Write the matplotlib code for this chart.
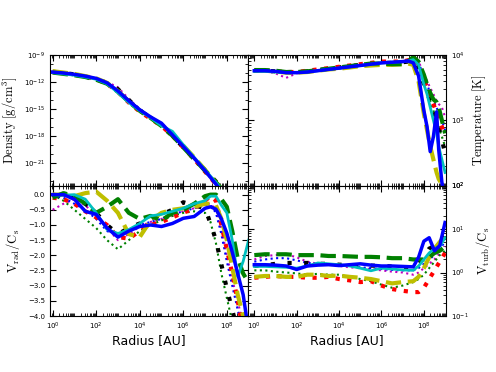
import numpy as np
import matplotlib
matplotlib.use("Agg")
import matplotlib.pyplot as plt
from matplotlib.ticker import LogLocator, FixedLocator, NullFormatter, MultipleLocator

plt.rcParams['mathtext.fontset'] = 'cm'

# log10(radius / AU) grids, one per panel
logr_rho = [0, 0.5, 1, 1.5, 2, 2.5, 3, 3.5, 4, 4.5, 5, 5.5, 6, 6.5, 7, 7.5, 7.75]
logr_temp = [0, 0.5, 1, 1.5, 2, 2.5, 3, 3.5, 4, 4.5, 5, 5.5, 6, 6.5, 7, 7.25, 7.5, 7.75,
             8.0, 8.15, 8.3, 8.45, 8.6, 8.7, 8.85, 9.0]
logr_vrad = [0, 0.5, 1, 1.5, 2, 2.5, 3, 3.5, 4, 4.5, 5, 5.5, 6, 6.5, 7, 7.25, 7.5, 7.75,
             8.0, 8.25, 8.5, 8.75, 9.0]
logr_vturb = [0, 0.5, 1, 1.5, 2, 2.5, 3, 3.5, 4, 4.5, 5, 5.5, 6, 6.5, 7, 7.5, 7.75,
              8.0, 8.25, 8.5, 8.75, 9.0]

series = ["mdot", "gdot", "bdot", "kdot", "rdot", "ydash", "gdash", "cyan", "blue"]

# log10 density [g/cm^3]
rho = {
    "mdot":  [-10.95, -11.0, -11.2, -11.4, -11.6, -12.0, -12.6, -13.9, -15.0, -15.9, -16.6, -17.9, -19.2, -20.5, -21.9, -23.3, -24.0],
    "gdot":  [-10.9, -11.05, -11.2, -11.4, -11.7, -12.2, -13.1, -14.2, -15.2, -16.0, -16.8, -18.0, -19.3, -20.6, -22.0, -23.4, -24.1],
    "bdot":  [-10.9, -11.0, -11.15, -11.35, -11.6, -12.1, -12.9, -14.0, -15.0, -15.9, -16.6, -17.9, -19.2, -20.5, -21.9, -23.3, -24.0],
    "kdot":  [-10.85, -11.0, -11.15, -11.4, -11.65, -12.1, -12.8, -14.0, -15.2, -16.0, -16.9, -18.0, -19.3, -20.6, -21.8, -23.1, -23.8],
    "rdot":  [-10.9, -11.05, -11.2, -11.4, -11.7, -12.2, -13.1, -14.3, -15.3, -16.1, -16.9, -18.0, -19.3, -20.6, -22.0, -23.4, -24.1],
    "ydash": [-10.8, -10.95, -11.1, -11.35, -11.6, -12.1, -13.0, -14.2, -15.2, -16.0, -16.9, -17.8, -19.1, -20.4, -21.8, -23.2, -23.9],
    "gdash": [-10.95, -11.1, -11.25, -11.45, -11.75, -12.2, -13.1, -14.2, -15.2, -16.0, -16.9, -18.0, -19.3, -20.6, -21.9, -23.2, -23.9],
    "cyan":  [-10.95, -11.1, -11.25, -11.45, -11.7, -12.2, -13.2, -14.3, -15.2, -16.0, -16.9, -17.5, -19.0, -20.4, -21.8, -23.2, -23.9],
    "blue":  [-10.9, -11.0, -11.15, -11.35, -11.6, -12.1, -13.0, -14.1, -15.1, -15.9, -16.6, -17.9, -19.2, -20.5, -21.9, -23.4, -24.2],
}

# log10 temperature [K]
temp = {
    "mdot":  [3.76, 3.76, 3.72, 3.65, 3.72, 3.74, 3.76, 3.78, 3.8, 3.82, 3.84, 3.86, 3.88, 3.89, 3.9, 3.92, 3.95, 3.9, 3.72, 3.6, 3.5, 3.4, 3.3, 3.25, 3.2, 3.05],
    "gdot":  [3.76, 3.76, 3.75, 3.74, 3.74, 3.75, 3.77, 3.79, 3.81, 3.83, 3.85, 3.87, 3.88, 3.88, 3.89, 3.9, 3.93, 3.85, 3.6, 3.45, 3.3, 3.15, 3.0, 2.9, 2.75, 2.6],
    "bdot":  [3.76, 3.76, 3.75, 3.73, 3.73, 3.75, 3.77, 3.79, 3.81, 3.83, 3.85, 3.87, 3.88, 3.89, 3.9, 3.91, 3.94, 3.88, 3.68, 3.55, 3.42, 3.3, 3.2, 3.1, 3.0, 2.85],
    "kdot":  [3.76, 3.76, 3.75, 3.74, 3.74, 3.75, 3.77, 3.79, 3.81, 3.83, 3.85, 3.87, 3.88, 3.88, 3.89, 3.9, 3.93, 3.8, 3.55, 3.42, 3.3, 3.15, 3.0, 2.9, 2.7, 2.5],
    "rdot":  [3.76, 3.76, 3.75, 3.74, 3.74, 3.76, 3.78, 3.8, 3.82, 3.84, 3.86, 3.88, 3.9, 3.9, 3.9, 3.92, 3.95, 3.85, 3.62, 3.5, 3.38, 3.25, 3.12, 3.02, 2.9, 2.75],
    "ydash": [3.76, 3.76, 3.75, 3.73, 3.73, 3.74, 3.76, 3.78, 3.79, 3.81, 3.83, 3.84, 3.85, 3.85, 3.86, 3.87, 3.85, 3.6, 3.1, 2.85, 2.6, 2.4, 2.2, 2.1, 2.02, 1.9],
    "gdash": [3.77, 3.77, 3.76, 3.74, 3.74, 3.75, 3.77, 3.79, 3.81, 3.83, 3.85, 3.87, 3.87, 3.86, 3.86, 3.9, 3.97, 3.9, 3.7, 3.55, 3.42, 3.32, 3.28, 3.2, 3.0, 2.8],
    "cyan":  [3.75, 3.75, 3.74, 3.73, 3.73, 3.74, 3.76, 3.78, 3.8, 3.82, 3.84, 3.86, 3.88, 3.89, 3.9, 3.91, 3.93, 3.85, 3.55, 3.4, 3.2, 3.0, 2.8, 2.6, 2.4, 2.2],
    "blue":  [3.76, 3.76, 3.75, 3.73, 3.73, 3.74, 3.76, 3.78, 3.8, 3.82, 3.84, 3.86, 3.88, 3.89, 3.9, 3.91, 3.88, 3.68, 3.15, 2.9, 2.52, 2.75, 3.13, 2.55, 2.05, 1.8],
}

# V_rad / C_s
vrad = {
    "mdot":  [-0.5, -0.3, -0.15, -0.35, -0.7, -1.1, -1.5, -1.3, -1.05, -0.9, -0.8, -0.7, -0.55, -0.45, -0.3, -0.3, -0.5, -1.1, -2.0, -2.8, -3.5, -4.3, -5.0],
    "gdot":  [0.0, -0.2, -0.5, -0.8, -1.1, -1.5, -1.8, -1.5, -1.2, -1.0, -0.85, -0.7, -0.6, -0.55, -0.6, -0.9, -1.6, -2.6, -3.4, -4.2, -5.0, -5.0, -5.0],
    "bdot":  [-0.05, -0.1, -0.3, -0.5, -0.8, -1.2, -1.35, -1.2, -1.0, -0.9, -0.8, -0.65, -0.55, -0.45, -0.35, -0.35, -0.6, -1.3, -2.2, -3.0, -3.8, -4.5, -5.0],
    "kdot":  [0.0, -0.05, -0.1, -0.3, -0.6, -1.0, -1.3, -1.1, -0.95, -0.8, -0.65, -0.5, -0.25, -0.35, -0.45, -0.95, -1.5, -2.3, -3.1, -3.8, -4.5, -5.0, -5.0],
    "rdot":  [-0.1, -0.15, -0.3, -0.55, -0.75, -1.0, -1.4, -1.45, -1.2, -1.0, -0.9, -0.75, -0.6, -0.45, -0.2, -0.05, -0.2, -1.0, -1.8, -2.6, -3.5, -4.5, -5.0],
    "ydash": [0.0, 0.0, -0.05, 0.05, 0.1, -0.2, -0.6, -1.3, -1.4, -0.85, -0.6, -0.5, -0.45, -0.4, -0.3, -0.3, -0.35, -0.8, -1.5, -2.4, -3.3, -4.0, -5.0],
    "gdash": [-0.1, 0.05, -0.05, -0.3, -0.6, -0.4, -0.15, -0.6, -0.8, -0.7, -0.85, -0.6, -0.5, -0.3, -0.05, 0.0, 0.0, -0.15, -0.4, -1.2, -2.1, -2.6, -2.9],
    "cyan":  [0.0, -0.02, 0.0, -0.15, -0.6, -1.15, -1.28, -1.15, -0.95, -0.7, -0.65, -0.55, -0.45, -0.3, -0.2, -0.05, -0.05, -0.35, -0.6, -1.5, -2.7, -2.2, -1.5],
    "blue":  [0.0, 0.0, -0.15, -0.55, -0.65, -1.1, -1.4, -1.2, -1.05, -1.0, -1.05, -0.95, -0.78, -0.72, -0.45, -0.4, -0.48, -0.8, -1.27, -1.9, -2.6, -3.3, -4.5],
}

# log10 V_turb / C_s
vturb = {
    "mdot":  [0.3, 0.38, 0.4, 0.42, 0.35, 0.25, 0.2, 0.18, 0.15, 0.12, 0.1, 0.08, 0.05, 0.02, 0.0, -0.05, 0.0, 0.1, 0.2, 0.3, 0.45, 0.6],
    "gdot":  [0.05, 0.05, 0.02, 0.0, -0.02, -0.05, -0.03, -0.05, -0.05, -0.1, -0.15, -0.2, -0.28, -0.35, -0.3, -0.22, -0.15, -0.05, 0.1, 0.25, 0.4, 0.5],
    "bdot":  [0.25, 0.3, 0.33, 0.33, 0.28, 0.22, 0.2, 0.2, 0.18, 0.15, 0.12, 0.1, 0.08, 0.06, 0.05, 0.05, 0.1, 0.2, 0.3, 0.4, 0.55, 0.7],
    "kdot":  [0.15, 0.17, 0.2, 0.22, 0.22, 0.22, 0.2, 0.2, 0.18, 0.17, 0.17, 0.16, 0.15, 0.14, 0.12, 0.12, 0.2, 0.35, 0.55, 0.6, 0.7, 0.85],
    "rdot":  [-0.12, -0.1, -0.08, -0.1, -0.1, -0.12, -0.12, -0.1, -0.15, -0.18, -0.22, -0.2, -0.3, -0.38, -0.42, -0.45, -0.45, -0.35, -0.15, 0.05, 0.25, 0.45],
    "ydash": [-0.1, -0.08, -0.08, -0.1, -0.1, -0.05, -0.05, -0.08, -0.07, -0.1, -0.12, -0.15, -0.2, -0.25, -0.22, -0.2, -0.1, 0.1, 0.35, 0.55, 0.7, 0.85],
    "gdash": [0.4, 0.42, 0.42, 0.42, 0.4, 0.4, 0.4, 0.38, 0.38, 0.37, 0.36, 0.36, 0.35, 0.33, 0.33, 0.3, 0.3, 0.3, 0.35, 0.45, 0.5, 0.6],
    "cyan":  [0.14, 0.14, 0.13, 0.12, 0.1, 0.15, 0.22, 0.2, 0.18, 0.15, 0.1, 0.04, 0.1, 0.08, 0.06, 0.05, 0.15, 0.3, 0.45, 0.55, 0.6, 0.8],
    "blue":  [0.18, 0.18, 0.17, 0.15, 0.07, 0.15, 0.17, 0.18, 0.16, 0.18, 0.2, 0.17, 0.15, 0.15, 0.14, 0.13, 0.35, 0.72, 0.8, 0.5, 0.62, 1.15],
}

styles = {
    "mdot":  dict(color="m", ls=":", lw=1.5),
    "gdot":  dict(color="g", ls=":", lw=1.5),
    "bdot":  dict(color="b", ls=":", lw=1.5),
    "kdot":  dict(color="k", ls=(0, (1, 3)), lw=3),
    "rdot":  dict(color="r", ls=(0, (1, 1.8)), lw=3),
    "ydash": dict(color="y", ls="--", lw=3),
    "gdash": dict(color="g", ls="--", lw=3),
    "cyan":  dict(color="c", ls="-", lw=2),
    "blue":  dict(color="b", ls="-", lw=2.5),
}


def style_axis(ax, xlim):
    ax.set_xscale("log")
    ax.set_xlim(*xlim)
    ax.xaxis.set_major_locator(FixedLocator([1e0, 1e2, 1e4, 1e6, 1e8]))
    ax.xaxis.set_minor_locator(LogLocator(base=10, subs=np.arange(1, 10), numticks=100))
    ax.xaxis.set_minor_formatter(NullFormatter())
    ax.tick_params(which="both", direction="in", top=True, right=True, labelsize=5)
    ax.tick_params(which="major", length=4)
    ax.tick_params(which="minor", length=2)


fig, axs = plt.subplots(2, 2, figsize=(4.96, 3.72), dpi=100)
fig.subplots_adjust(left=0.1008, right=0.899, top=0.852, bottom=0.1505, wspace=0, hspace=0)
ax_rho, ax_t = axs[0]
ax_v, ax_turb = axs[1]

xl_left = (10 ** -0.12, 10 ** 8.97)
xl_right = (10 ** -0.3, 10 ** 9.04)

for key in series:
    ax_rho.plot(10.0 ** np.array(logr_rho), 10.0 ** np.array(rho[key]), **styles[key])
    ax_t.plot(10.0 ** np.array(logr_temp), 10.0 ** np.array(temp[key]), **styles[key])
    ax_v.plot(10.0 ** np.array(logr_vrad), vrad[key], **styles[key])
    ax_turb.plot(10.0 ** np.array(logr_vturb), 10.0 ** np.array(vturb[key]), **styles[key])

# density
style_axis(ax_rho, xl_left)
ax_rho.set_yscale("log")
ax_rho.set_ylim(10 ** -23.55, 1e-9)
ax_rho.yaxis.set_major_locator(FixedLocator([1e-9, 1e-12, 1e-15, 1e-18, 1e-21]))
ax_rho.yaxis.set_minor_locator(FixedLocator([10.0 ** k for k in range(-23, -8)]))
ax_rho.yaxis.set_minor_formatter(NullFormatter())
ax_rho.set_xticklabels([])
ax_rho.set_ylabel(r"$\rm{Density\ [g/cm^3]}$", fontsize=9)

# temperature
style_axis(ax_t, xl_right)
ax_t.set_yscale("log")
ax_t.set_ylim(1e2, 1e4)
ax_t.yaxis.tick_right()
ax_t.yaxis.set_label_position("right")
ax_t.tick_params(which="both", left=True, labelleft=False, labelright=True)
ax_t.set_xticklabels([])
ax_t.set_ylabel(r"$\rm{Temperature\ [K]}$", fontsize=9)

# radial velocity
style_axis(ax_v, xl_left)
ax_v.set_ylim(-4.0, 0.3)
ax_v.yaxis.set_major_locator(MultipleLocator(0.5))
ax_v.set_ylabel(r"$\rm{V_{rad}/C_s}$", fontsize=9)
ax_v.set_xlabel("Radius [AU]", fontsize=9, labelpad=1)

# turbulent velocity
style_axis(ax_turb, xl_right)
ax_turb.set_yscale("log")
ax_turb.set_ylim(1e-1, 1e2)
ax_turb.yaxis.tick_right()
ax_turb.yaxis.set_label_position("right")
ax_turb.tick_params(which="both", left=True, labelleft=False, labelright=True)
ax_turb.set_ylabel(r"$\rm{V_{turb}/C_s}$", fontsize=9)
ax_turb.set_xlabel("Radius [AU]", fontsize=9, labelpad=1)

fig.savefig("out.png", dpi=100)
